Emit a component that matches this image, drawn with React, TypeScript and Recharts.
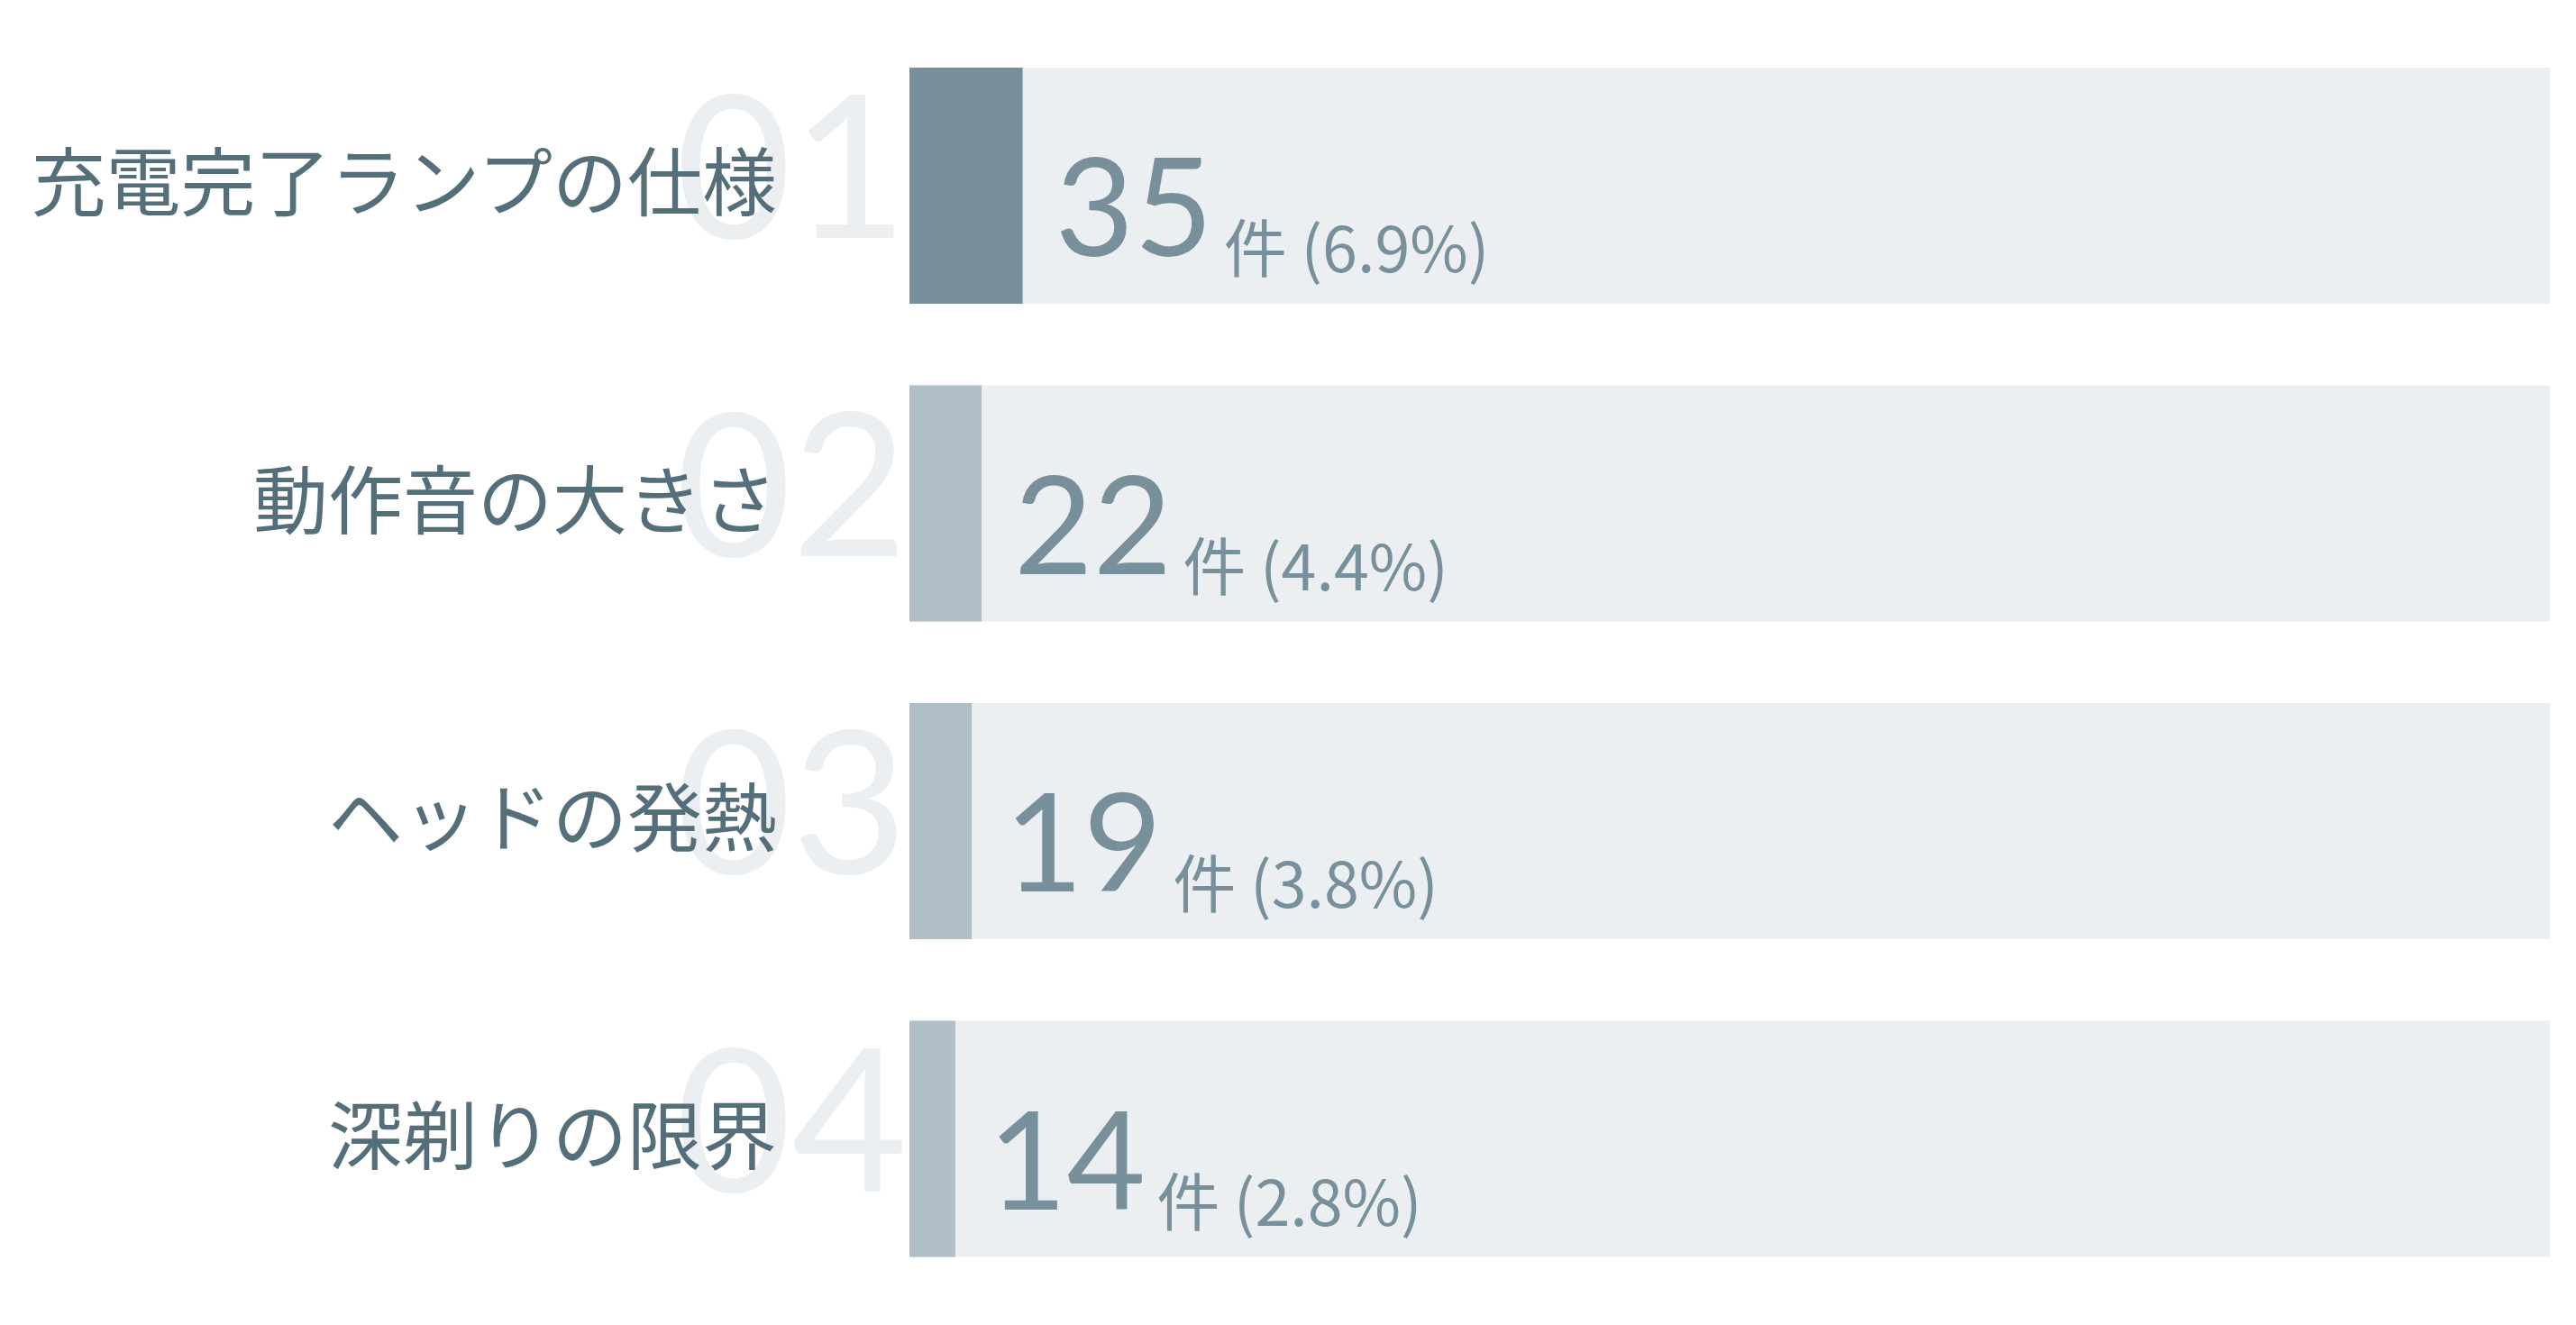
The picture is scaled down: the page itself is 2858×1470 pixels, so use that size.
import { BarChart, Bar, XAxis, YAxis, Cell, LabelList } from 'recharts'

// 不満点ランキング（件数と全体比）
const categories = ['充電完了ランプの仕様', '動作音の大きさ', 'ヘッドの発熱', '深剃りの限界']
const ranks = ['01', '02', '03', '04']
const counts = [35, 22, 19, 14]
const shares = [6.9, 4.4, 3.8, 2.8]
const unit = '件'

const COLOR_TOP = '#78909c'
const COLOR_REST = '#b0bec5'
const COLOR_TRACK = '#eceff1'
const COLOR_LABEL = '#546e7a'

const data = categories.map((name, i) => ({
  name,
  rank: ranks[i],
  count: counts[i],
  share: shares[i],
}))

const NUM_FONT = "Lato, 'Noto Sans CJK JP', sans-serif"
const JP_FONT = "'Noto Sans CJK JP', sans-serif"

function CategoryTick(props: any) {
  const { x, y, payload } = props
  const i = payload.index
  return (
    <g>
      <text
        x={x - 2}
        y={y + 58}
        textAnchor="end"
        fill={COLOR_TRACK}
        fontFamily={NUM_FONT}
        fontSize={222}
        fontWeight={400}
      >
        {ranks[i]}
      </text>
      <text
        x={x - 147}
        y={y - 9}
        textAnchor="end"
        dominantBaseline="central"
        fill={COLOR_LABEL}
        fontFamily={JP_FONT}
        fontSize={83}
      >
        {payload.value}
      </text>
    </g>
  )
}

function ValueLabel(props: any) {
  const { x, y, width, height, index } = props
  const cy = y + height / 2
  return (
    <text x={x + width + 36} y={cy + 78} fill={COLOR_TOP} fontFamily={NUM_FONT}>
      <tspan fontSize={151}>{counts[index]}</tspan>
      <tspan fontSize={70} dx={12} dy={18} fontFamily={JP_FONT}>
        {`${unit} (${shares[index].toFixed(1)}%)`}
      </tspan>
    </text>
  )
}

export default function App() {
  return (
    <div style={{ position: 'absolute', left: 0, top: 0, width: 2858, height: 1470, background: '#fff' }}>
      <BarChart
        width={2858}
        height={1470}
        data={data}
        layout="vertical"
        margin={{ top: 30, right: 29, bottom: 30, left: 0 }}
      >
        <XAxis type="number" domain={[0, 100]} hide />
        <YAxis
          type="category"
          dataKey="name"
          width={1009}
          axisLine={false}
          tickLine={false}
          tickSize={0}
          tickMargin={0}
          tick={<CategoryTick />}
        />
        <Bar dataKey="share" barSize={262} background={{ fill: COLOR_TRACK }} isAnimationActive={false}>
          {data.map((d, i) => (
            <Cell key={d.name} fill={i === 0 ? COLOR_TOP : COLOR_REST} />
          ))}
          <LabelList dataKey="count" content={<ValueLabel />} />
        </Bar>
      </BarChart>
    </div>
  )
}
